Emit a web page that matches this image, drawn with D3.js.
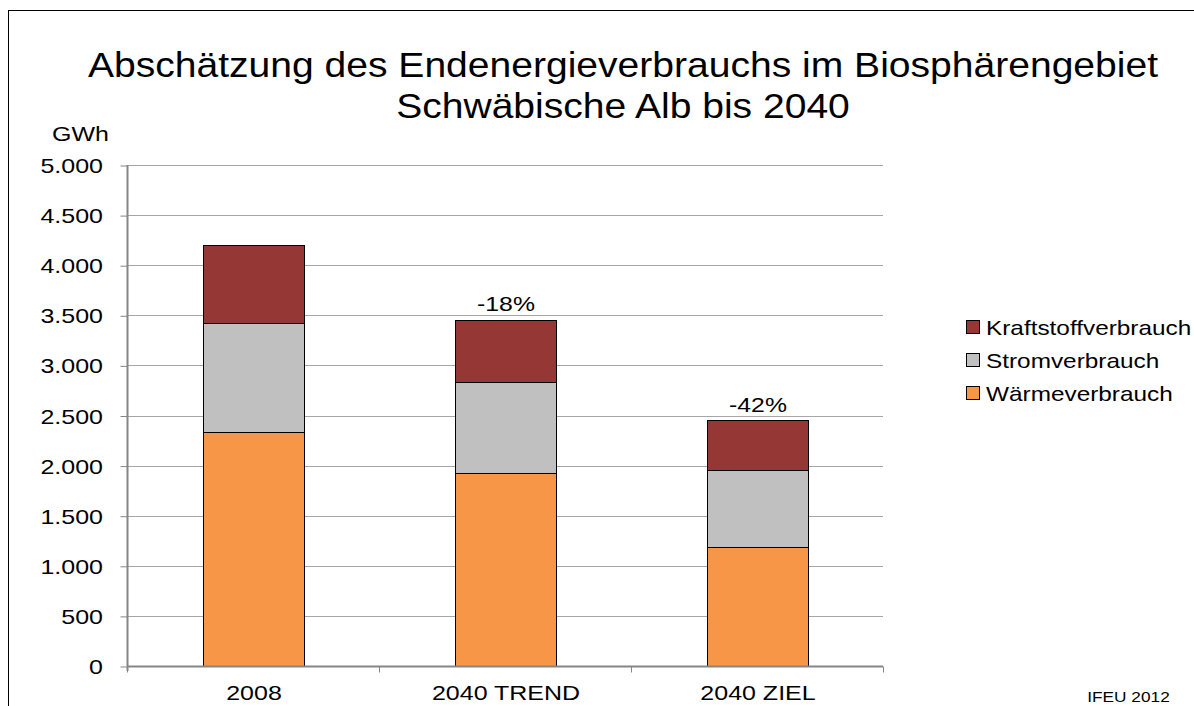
<!DOCTYPE html>
<html lang="de">
<head>
<meta charset="UTF-8">
<title>Endenergieverbrauch Biosphärengebiet</title>
<style>
body { margin: 0; background: #fff; }
text { font-family: "Liberation Sans", Arial, sans-serif; fill: #000; }
.grid line { stroke: #a6a6a6; stroke-width: 1px; }
</style>
</head>
<body>
<script src="https://cdnjs.cloudflare.com/ajax/libs/d3/7.8.5/d3.min.js"></script>
<script>
var categories = ["2008", "2040 TREND", "2040 ZIEL"];
var waerme = [2335, 1926, 1188];
var strom = [1088, 908, 768];
var kraft = [779, 624, 499];
var changeLabels = ["", "-18%", "-42%"];
var yTicks = [0, 500, 1000, 1500, 2000, 2500, 3000, 3500, 4000, 4500, 5000];
var seriesNames = ["Wärmeverbrauch", "Stromverbrauch", "Kraftstoffverbrauch"];
var seriesColors = ["#f79646", "#c0c0c0", "#953735"];

var width = 1194, height = 706;
var svg = d3.select("body").append("svg")
  .attr("width", width).attr("height", height);

// the original text is drawn a bit wider than Liberation Sans
var SX = 1.19;
function placeText(sel, px, py, sx) {
  sel.attr("transform", (d, i) => {
    var xx = typeof px === "function" ? px(d, i) : px;
    var yy = typeof py === "function" ? py(d, i) : py;
    return "translate(" + xx + "," + yy + ") scale(" + sx + ",1)";
  });
  return sel;
}

// outer frame
svg.append("rect")
  .attr("x", 8.5).attr("y", 10.5)
  .attr("width", 1300).attr("height", 900)
  .attr("fill", "none").attr("stroke", "#000").attr("stroke-width", 1);

var pLeft = 127, pRight = 883, pTop = 165, pBottom = 666;

var x = d3.scaleBand().domain(categories).range([pLeft, pRight]).paddingInner(0.6).paddingOuter(0.3);
var xGroup = d3.scaleBand().domain(categories).range([pLeft, pRight]);
var y = d3.scaleLinear().domain([0, 5000]).range([pBottom, pTop]);

// title
var titleLines = ["Abschätzung des Endenergieverbrauchs im Biosphärengebiet", "Schwäbische Alb bis 2040"];
placeText(svg.selectAll("text.title").data(titleLines).enter().append("text")
  .attr("class", "title")
  .attr("text-anchor", "middle")
  .style("font-size", "36px")
  .text(d => d), 623, (d, i) => 77 + i * 41, 1.085);

// gridlines
svg.append("g").attr("class", "grid")
  .selectAll("line").data(yTicks.slice(1)).enter().append("line")
  .attr("x1", pLeft).attr("x2", pRight)
  .attr("y1", d => Math.round(y(d)) + 0.5).attr("y2", d => Math.round(y(d)) + 0.5);

// y axis
var fmt = d3.formatLocale({ decimal: ",", thousands: ".", grouping: [3], currency: ["", "€"] }).format(",");
var yAxis = svg.append("g")
  .attr("transform", "translate(" + (pLeft + 0.5) + ",0)")
  .call(d3.axisLeft(y).tickValues(yTicks).tickSize(7).tickPadding(4).tickFormat(fmt));
yAxis.selectAll("line, path").attr("stroke", "#868686");
yAxis.select("path").attr("d", "M0," + (y(0) + 5) + "V" + y(5000)).attr("stroke-width", 2);
yAxis.selectAll(".tick line").attr("transform", "translate(0,0.5)");
yAxis.selectAll("text")
  .style("font-size", "21px").attr("dy", "0.36em")
  .attr("x", -24.5 / SX)
  .attr("transform", "scale(" + SX + ",1)");

placeText(svg.append("text")
  .attr("text-anchor", "middle").style("font-size", "21px").text("GWh"), 80.5, 141, SX);

// stacked data
var rows = categories.map((c, i) => ({ cat: c, w: waerme[i], s: strom[i], k: kraft[i] }));
var stack = d3.stack().keys(["w", "s", "k"])(rows);

svg.append("g").selectAll("g").data(stack).enter().append("g")
  .attr("fill", (d, i) => seriesColors[i])
  .selectAll("rect").data(d => d).enter().append("rect")
  .attr("x", d => Math.round(x(d.data.cat)) + 0.5)
  .attr("width", Math.round(x.bandwidth()))
  .attr("y", d => Math.round(y(d[1])) + 0.5)
  .attr("height", d => Math.round(y(d[0])) - Math.round(y(d[1])))
  .attr("stroke", "#000").attr("stroke-width", 1);

// x axis
var xAxis = svg.append("g")
  .attr("transform", "translate(0," + (Math.round(y(0)) + 0.5) + ")");
xAxis.append("line").attr("x1", pLeft).attr("x2", pRight)
  .attr("stroke", "#868686").attr("stroke-width", 2);
xAxis.selectAll("line.tick").data(categories.concat(["end"])).enter().append("line")
  .attr("class", "tick")
  .attr("x1", (d, i) => Math.round(pLeft + i * xGroup.bandwidth()) + 0.5)
  .attr("x2", (d, i) => Math.round(pLeft + i * xGroup.bandwidth()) + 0.5)
  .attr("y1", 0).attr("y2", 6)
  .attr("stroke", "#868686");
placeText(svg.selectAll("text.xlab").data(categories).enter().append("text")
  .attr("class", "xlab")
  .attr("text-anchor", "middle").style("font-size", "21px")
  .text(d => d), d => x(d) + x.bandwidth() / 2 + 1, 700, SX);

// percentage labels
placeText(svg.selectAll("text.pct").data(rows).enter().append("text")
  .attr("class", "pct")
  .attr("text-anchor", "middle").style("font-size", "20px")
  .text((d, i) => changeLabels[i]),
  d => x(d.cat) + x.bandwidth() / 2 + 1, d => y(d.w + d.s + d.k) - 8.5, 1.24);

// legend
var legendOrder = [2, 1, 0];
var legend = svg.append("g").selectAll("g").data(legendOrder).enter().append("g")
  .attr("transform", (d, i) => "translate(966," + (327 + i * 33) + ")");
legend.append("rect")
  .attr("x", 0.5).attr("y", -6.5).attr("width", 13).attr("height", 13)
  .attr("fill", d => seriesColors[d]).attr("stroke", "#000");
placeText(legend.append("text")
  .style("font-size", "21px")
  .text(d => seriesNames[d]), 20, 7.5, 1.16);

// source
placeText(svg.append("text")
  .attr("text-anchor", "middle").style("font-size", "15px").text("IFEU 2012"), 1128.5, 702, 1.15);
</script>
</body>
</html>
